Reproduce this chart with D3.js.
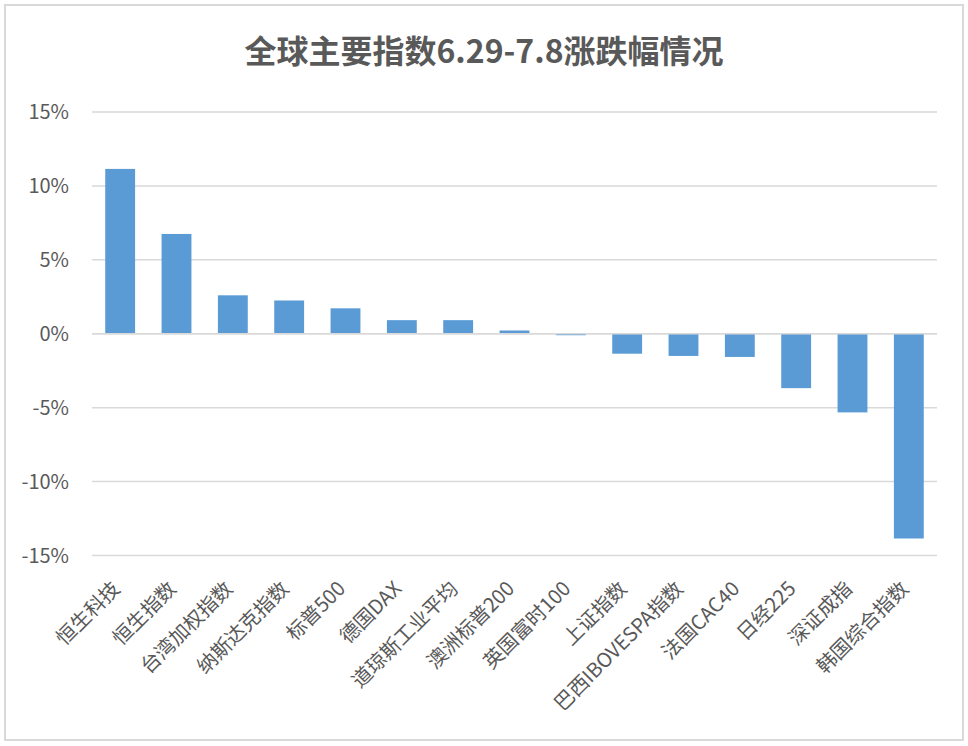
<!DOCTYPE html>
<html>
<head>
<meta charset="utf-8">
<script src="https://cdn.jsdelivr.net/npm/d3@7"></script>
<style>
  body { margin: 0; background: #fff; }
  svg { display: block; }
</style>
</head>
<body>
<svg width="968" height="746"></svg>
<script>
  // index names and % change 6.29-7.8
  var names = ["恒生科技", "恒生指数", "台湾加权指数", "纳斯达克指数", "标普500", "德国DAX",
               "道琼斯工业平均", "澳洲标普200", "英国富时100", "上证指数", "巴西IBOVESPA指数",
               "法国CAC40", "日经225", "深证成指", "韩国综合指数"];
  var changes = [11.15, 6.75, 2.6, 2.25, 1.72, 0.92, 0.92, 0.22, -0.1, -1.35, -1.5, -1.57, -3.68, -5.32, -13.85];
  var yTicks = [15, 10, 5, 0, -5, -10, -15];

  var title = "全球主要指数6.29-7.8涨跌幅情况";
  var font = "'Noto Sans CJK SC', 'Noto Sans', sans-serif";

  var svg = d3.select("svg"),
      width = +svg.attr("width"),
      height = +svg.attr("height");

  // chart frame
  svg.append("rect")
      .attr("x", 5).attr("y", 5)
      .attr("width", width - 10).attr("height", height - 11)
      .attr("fill", "#fff")
      .attr("stroke", "#d9d9d9")
      .attr("stroke-width", 2);

  svg.append("text")
      .attr("x", 484)
      .attr("y", 63)
      .attr("text-anchor", "middle")
      .attr("font-family", font)
      .attr("font-weight", "bold")
      .attr("font-size", "32px")
      .attr("fill", "#595959")
      .text(title);

  var x = d3.scaleBand()
      .domain(names)
      .range([92, 937])
      .paddingInner(0.47)
      .paddingOuter(0.235);

  var y = d3.scaleLinear()
      .domain([-15, 15])
      .range([555.5, 112]);

  // gridlines
  svg.append("g")
    .selectAll("line")
    .data(yTicks)
    .enter().append("line")
      .attr("x1", 92).attr("x2", 937)
      .attr("y1", function(d) { return y(d); })
      .attr("y2", function(d) { return y(d); })
      .attr("stroke", "#d9d9d9")
      .attr("stroke-width", 1.5);

  // y labels
  svg.append("g")
    .selectAll("text")
    .data(yTicks)
    .enter().append("text")
      .attr("x", 69)
      .attr("y", function(d) { return y(d); })
      .attr("dy", "0.35em")
      .attr("text-anchor", "end")
      .attr("font-family", font)
      .attr("font-size", "20px")
      .attr("fill", "#595959")
      .text(function(d) { return d + "%"; });

  // bars
  svg.append("g")
    .selectAll("rect")
    .data(changes)
    .enter().append("rect")
      .attr("x", function(d, i) { return x(names[i]); })
      .attr("width", x.bandwidth())
      .attr("y", function(d) { return y(Math.max(0, d)); })
      .attr("height", function(d) { return Math.abs(y(d) - y(0)); })
      .attr("fill", "#5b9bd5");

  // zero line on top of bars
  svg.append("line")
      .attr("x1", 92).attr("x2", 937)
      .attr("y1", y(0)).attr("y2", y(0))
      .attr("stroke", "#d9d9d9")
      .attr("stroke-width", 1.5);

  // category labels, rotated -45
  svg.append("g")
    .selectAll("text")
    .data(names)
    .enter().append("text")
      .attr("transform", function(d) {
        var cx = x(d) + x.bandwidth() / 2 + 1;
        return "translate(" + cx + ",590) rotate(-45)";
      })
      .attr("text-anchor", "end")
      .attr("font-family", font)
      .attr("font-size", "20px")
      .attr("fill", "#595959")
      .text(function(d) { return d; });
</script>
</body>
</html>
